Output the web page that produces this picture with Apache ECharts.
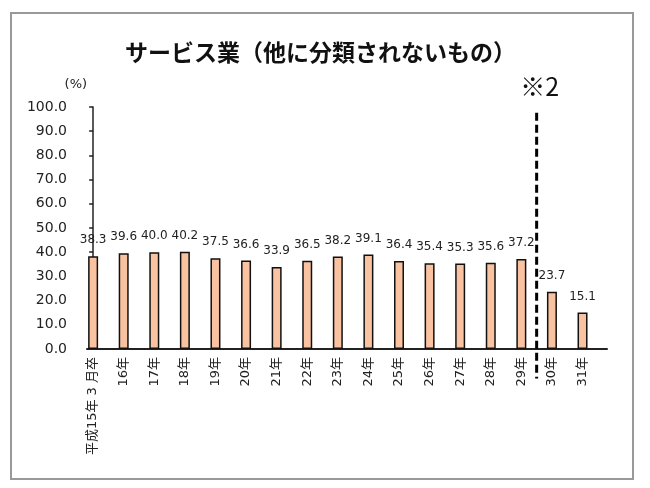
<!DOCTYPE html>
<html>
<head>
<meta charset="utf-8">
<script src="https://cdn.jsdelivr.net/npm/echarts@6/dist/echarts.min.js"></script>
<style>
  html, body { margin: 0; padding: 0; background: #fff; }
  #chart { width: 650px; height: 488px; }
</style>
</head>
<body>
<div id="chart"></div>
<script>
const categories = ['平成15年 3 月卒', '16年', '17年', '18年', '19年', '20年', '21年', '22年', '23年',
  '24年', '25年', '26年', '27年', '28年', '29年', '30年', '31年']
const rates = [38.3, 39.6, 40.0, 40.2, 37.5, 36.6, 33.9, 36.5, 38.2, 39.1, 36.4, 35.4, 35.3, 35.6, 37.2, 23.7, 15.1]
const yTicks = [0, 10, 20, 30, 40, 50, 60, 70, 80, 90, 100]
const breakAfter = 14 // dashed line between 29年 and 30年
const breakSpan = [97.6, -12.2] // dashed line runs from here down below the axis

const numFont = 'DejaVu Sans, Noto Sans CJK JP, sans-serif'

const chart = echarts.init(document.getElementById('chart'), null, { renderer: 'canvas' })

// dashed divider with the ※2 note, placed through the axis scales
function renderBreak(params, api) {
  const top = api.coord([api.value(0), api.value(1)])
  const bottom = api.coord([api.value(0), api.value(2)])
  return {
    type: 'group',
    children: [{
      type: 'line',
      shape: { x1: top[0], y1: top[1], x2: bottom[0], y2: bottom[1] },
      style: { stroke: '#000', lineWidth: 3, lineDash: [8, 4] }
    }, {
      type: 'text',
      x: top[0] + 3,
      y: top[1] - 26,
      style: {
        text: '※2', fontSize: 25, fill: '#111', fontFamily: 'Noto Sans CJK JP',
        fontWeight: 'normal', align: 'center', verticalAlign: 'middle'
      }
    }]
  }
}

chart.setOption({
  backgroundColor: '#fff',
  animation: false,
  title: {
    text: 'サービス業（他に分類されないもの）',
    left: 120,
    top: 36,
    textStyle: { fontSize: 23, fontWeight: 'bold', color: '#111', fontFamily: 'Noto Sans CJK JP' }
  },
  graphic: [{
    type: 'rect',
    shape: { x: 11, y: 13, width: 622, height: 466 },
    style: { fill: 'none', stroke: '#999', lineWidth: 2 },
    z: -1
  }],
  grid: { left: 87, right: 43, top: 107, bottom: 139 },
  xAxis: {
    type: 'value',
    min: -0.2,
    max: categories.length - 0.2,
    axisLine: { show: true, lineStyle: { color: '#222', width: 2 } },
    axisTick: { show: false },
    splitLine: { show: false },
    axisLabel: {
      customValues: categories.map((c, i) => i),
      formatter: v => categories[Math.round(v)] || '',
      rotate: 90,
      margin: 8,
      fontSize: 13,
      color: '#222',
      fontFamily: numFont
    }
  },
  yAxis: {
    type: 'value',
    min: yTicks[0],
    max: yTicks[yTicks.length - 1],
    interval: 10,
    name: '(%)',
    nameLocation: 'end',
    nameGap: 16,
    nameTextStyle: { fontSize: 13, color: '#222', align: 'right', padding: [0, 6, 0, 0], fontFamily: numFont },
    axisLine: { show: true, lineStyle: { color: '#222', width: 1.5 } },
    axisTick: { show: true, length: 4, lineStyle: { color: '#222', width: 1.5 } },
    splitLine: { show: false },
    axisLabel: {
      formatter: v => v.toFixed(1),
      fontSize: 14,
      color: '#222',
      margin: 20,
      fontFamily: numFont
    }
  },
  series: [{
    type: 'bar',
    data: rates.map((v, i) => [i, v]),
    barWidth: 10,
    itemStyle: { color: '#F9C3A2', borderColor: '#111', borderWidth: 1.5 },
    label: {
      show: true,
      position: 'top',
      distance: 10,
      formatter: p => p.value[1].toFixed(1),
      fontSize: 12,
      color: '#222',
      fontFamily: numFont
    }
  }, {
    type: 'custom',
    silent: true,
    clip: false,
    renderItem: renderBreak,
    data: [[breakAfter + 0.5, breakSpan[0], breakSpan[1]]],
    z: 5
  }]
})
</script>
</body>
</html>
